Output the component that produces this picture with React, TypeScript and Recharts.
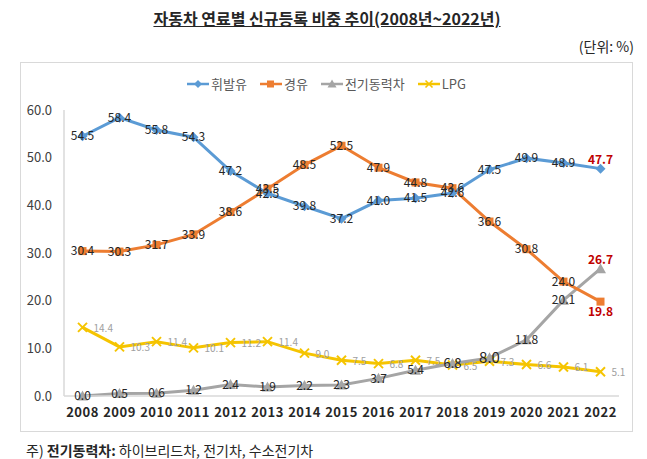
import React from 'react';
import { LineChart, Line, XAxis, YAxis, LabelList, Legend } from 'recharts';

const years = ['2008', '2009', '2010', '2011', '2012', '2013', '2014', '2015', '2016', '2017', '2018', '2019', '2020', '2021', '2022'];
const gasoline = [54.5, 58.4, 55.8, 54.3, 47.2, 42.5, 39.8, 37.2, 41.0, 41.5, 42.6, 47.5, 49.9, 48.9, 47.7];
const diesel = [30.4, 30.3, 31.7, 33.9, 38.6, 43.5, 48.5, 52.5, 47.9, 44.8, 43.6, 36.6, 30.8, 24.0, 19.8];
const electric = [0.0, 0.5, 0.6, 1.2, 2.4, 1.9, 2.2, 2.3, 3.7, 5.4, 6.8, 8.0, 11.8, 20.1, 26.7];
const lpg = [14.4, 10.3, 11.4, 10.1, 11.2, 11.4, 9.0, 7.5, 6.8, 7.5, 6.5, 7.3, 6.6, 6.1, 5.1];
const yTicks = [0, 10, 20, 30, 40, 50, 60];

const seriesNames = { gasoline: '휘발유', diesel: '경유', electric: '전기동력차', lpg: 'LPG' };
const colors = { gasoline: '#5B9BD5', diesel: '#ED7D31', electric: '#A5A5A5', lpg: '#F5C400' };

const data = years.map((y, i) => ({
  year: y,
  gasoline: gasoline[i],
  diesel: diesel[i],
  electric: electric[i],
  lpg: lpg[i],
}));

const FONT = "'Noto Sans CJK KR', 'Noto Sans', sans-serif";
const LAST = years.length - 1;

const Diamond = (props: any) => {
  const { cx, cy } = props;
  if (cx == null || cy == null) return null;
  const r = 5;
  return <polygon points={`${cx},${cy - r} ${cx + r},${cy} ${cx},${cy + r} ${cx - r},${cy}`} fill={colors.gasoline} />;
};
const Square = (props: any) => {
  const { cx, cy } = props;
  if (cx == null || cy == null) return null;
  return <rect x={cx - 4} y={cy - 4} width={8} height={8} fill={colors.diesel} />;
};
const Triangle = (props: any) => {
  const { cx, cy } = props;
  if (cx == null || cy == null) return null;
  return <polygon points={`${cx},${cy - 5.5} ${cx + 5.5},${cy + 4.5} ${cx - 5.5},${cy + 4.5}`} fill={colors.electric} />;
};
const Cross = (props: any) => {
  const { cx, cy } = props;
  if (cx == null || cy == null) return null;
  const r = 4.5;
  return (
    <g stroke={colors.lpg} strokeWidth={2}>
      <line x1={cx - r} y1={cy - r} x2={cx + r} y2={cy + r} />
      <line x1={cx - r} y1={cy + r} x2={cx + r} y2={cy - r} />
    </g>
  );
};

const makeLabel = (kind: string) => (props: any) => {
  const { x, y, value, index } = props;
  if (x == null || y == null) return null;
  const txt = Number(value).toFixed(1);
  if (kind === 'lpg') {
    return (
      <text x={x + 11} y={y + 1} dy="0.35em" textAnchor="start" fontSize={10} fill="#A0A0A0" fontFamily={FONT}>
        {txt}
      </text>
    );
  }
  if (index === LAST) {
    const dy = kind === 'diesel' ? 10 : -9;
    return (
      <text x={x} y={y + dy} dy="0.35em" textAnchor="middle" fontSize={12} fontWeight="bold" fill="#C00000" fontFamily={FONT}>
        {txt}
      </text>
    );
  }
  let fs = 12;
  if (kind === 'electric' && index === 11) fs = 15;
  if (kind === 'electric' && index === 10) fs = 13;
  return (
    <text x={x} y={y} dy="0.35em" textAnchor="middle" fontSize={fs} fill="#262626" fontFamily={FONT}>
      {txt}
    </text>
  );
};

const LegendIcon = ({ kind }: { kind: string }) => {
  const c = (colors as any)[kind];
  let marker: any = null;
  if (kind === 'gasoline') marker = <polygon points="11,1 15,5 11,9 7,5" fill={c} />;
  if (kind === 'diesel') marker = <rect x={7} y={1.5} width={7} height={7} fill={c} />;
  if (kind === 'electric') marker = <polygon points="11,0.5 15.5,8.5 6.5,8.5" fill={c} />;
  if (kind === 'lpg')
    marker = (
      <g stroke={c} strokeWidth={1.6}>
        <line x1={7.5} y1={1.5} x2={14.5} y2={8.5} />
        <line x1={7.5} y1={8.5} x2={14.5} y2={1.5} />
      </g>
    );
  return (
    <svg width={22} height={10} style={{ marginRight: 2 }}>
      <line x1={0} y1={5} x2={22} y2={5} stroke={c} strokeWidth={2.5} />
      {marker}
    </svg>
  );
};

const renderLegend = () => (
  <div style={{ display: 'flex', justifyContent: 'center', alignItems: 'center', fontFamily: FONT, fontSize: 13, color: '#595959' }}>
    {(['gasoline', 'diesel', 'electric', 'lpg'] as const).map((k, i) => (
      <div key={k} style={{ display: 'flex', alignItems: 'center', marginLeft: i === 0 ? 0 : 13 }}>
        <LegendIcon kind={k} />
        <span>{seriesNames[k]}</span>
      </div>
    ))}
  </div>
);

export default function App() {
  return (
    <div style={{ position: 'absolute', left: 0, top: 0, width: 647, height: 459, background: '#fff', fontFamily: FONT }}>
      <div
        style={{
          position: 'absolute',
          left: 0,
          width: 654,
          top: 6,
          textAlign: 'center',
          fontSize: 16,
          fontWeight: 'bold',
          textDecoration: 'underline',
          color: '#262626',
        }}
      >
        자동차 연료별 신규등록 비중 추이(2008년~2022년)
      </div>
      <div style={{ position: 'absolute', right: 13, top: 36, fontSize: 14, color: '#262626' }}>(단위: %)</div>
      <div
        style={{
          position: 'absolute',
          left: 20,
          top: 62,
          width: 613,
          height: 370,
          border: '1px solid #D9D9D9',
          boxSizing: 'border-box',
        }}
      />
      <div style={{ position: 'absolute', left: 20, top: 62 }}>
        <LineChart width={613} height={370} data={data} margin={{ top: 48, right: 14, bottom: 12, left: 0 }}>
          <XAxis
            dataKey="year"
            axisLine={{ stroke: '#D9D9D9', strokeWidth: 1.5 }}
            tickLine={false}
            tickSize={0}
            tickMargin={12}
            height={24}
            interval={0}
            padding={{ left: 18.5, right: 18.5 }}
            tick={{ fontSize: 13, fontWeight: 'bold', fill: '#262626', fontFamily: FONT, letterSpacing: 0.5 }}
          />
          <YAxis
            domain={[0, 60]}
            ticks={yTicks}
            width={44}
            axisLine={{ stroke: '#D9D9D9', strokeWidth: 1.5 }}
            tickLine={false}
            tickSize={0}
            tickMargin={12}
            tickFormatter={(v: number) => v.toFixed(1)}
            tick={{ fontSize: 13, fill: '#404040', fontFamily: FONT }}
          />
          <Legend
            verticalAlign="middle"
            layout="horizontal"
            content={renderLegend}
            wrapperStyle={{ position: 'absolute', top: 12, left: 0, width: 613 }}
          />
          <Line type="linear" dataKey="lpg" name={seriesNames.lpg} stroke={colors.lpg} strokeWidth={3} dot={<Cross />} activeDot={false} isAnimationActive={false}>
            <LabelList dataKey="lpg" content={makeLabel('lpg')} />
          </Line>
          <Line type="linear" dataKey="electric" name={seriesNames.electric} stroke={colors.electric} strokeWidth={3} dot={<Triangle />} activeDot={false} isAnimationActive={false}>
            <LabelList dataKey="electric" content={makeLabel('electric')} />
          </Line>
          <Line type="linear" dataKey="diesel" name={seriesNames.diesel} stroke={colors.diesel} strokeWidth={3} dot={<Square />} activeDot={false} isAnimationActive={false}>
            <LabelList dataKey="diesel" content={makeLabel('diesel')} />
          </Line>
          <Line type="linear" dataKey="gasoline" name={seriesNames.gasoline} stroke={colors.gasoline} strokeWidth={3} dot={<Diamond />} activeDot={false} isAnimationActive={false}>
            <LabelList dataKey="gasoline" content={makeLabel('gasoline')} />
          </Line>
        </LineChart>
      </div>
      <div style={{ position: 'absolute', left: 26, top: 440, fontSize: 14, color: '#262626' }}>
        주) <b>전기동력차:</b> 하이브리드차, 전기차, 수소전기차
      </div>
    </div>
  );
}
